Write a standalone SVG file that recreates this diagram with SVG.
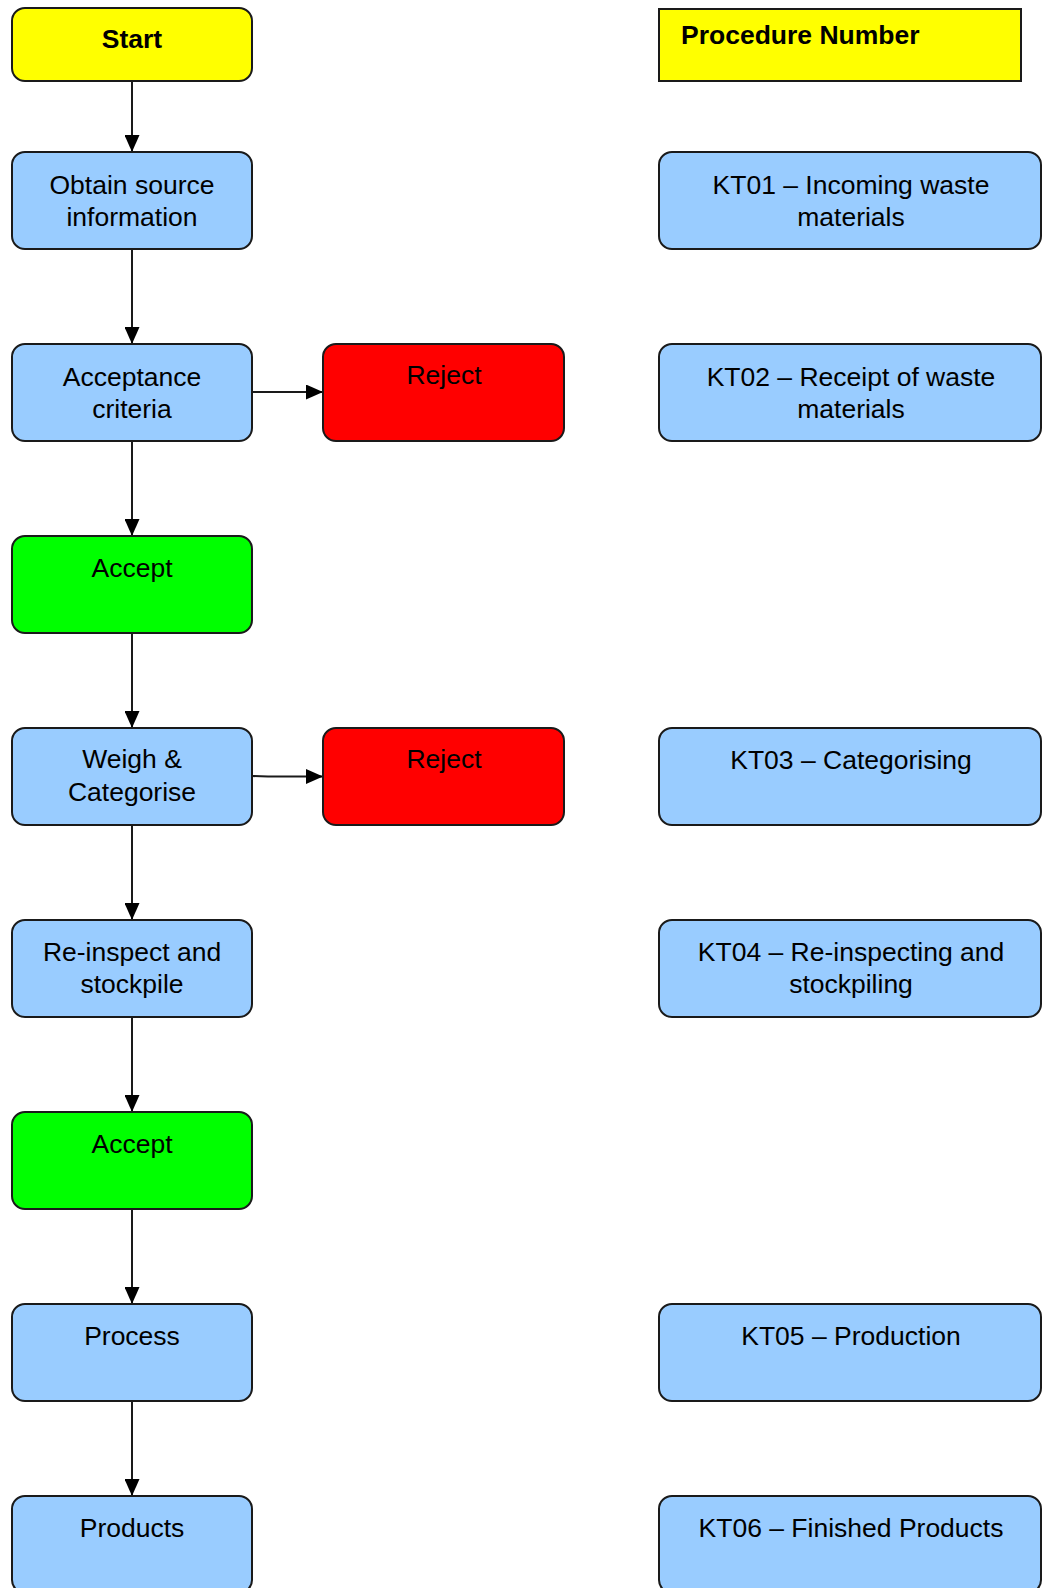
<svg xmlns="http://www.w3.org/2000/svg" width="1042" height="1588" viewBox="0 0 1042 1588">
<style>
.box{stroke:#1a1a1a;stroke-width:2}
.blue{fill:#99ccff}
.yellow{fill:#ffff00}
.red{fill:#ff0000}
.green{fill:#00ff00}
text{font-family:"Liberation Sans",Arial,sans-serif;font-size:26.5px;fill:#000;text-anchor:middle}
.b{font-weight:bold}
.conn{stroke:#1a1a1a;stroke-width:2;fill:none}
</style>
<defs>
<marker id="arr" markerWidth="17" markerHeight="15" refX="17" refY="7.5" orient="auto" markerUnits="userSpaceOnUse" viewBox="0 0 17 15">
<path d="M0,0 L17,7.5 L0,15 Z" fill="#000"/>
</marker>
</defs>
<rect width="1042" height="1588" fill="#fff"/>
<g id="connectors">
<line class="conn" x1="132" y1="81" x2="132" y2="152" marker-end="url(#arr)"/>
<line class="conn" x1="132" y1="249" x2="132" y2="344" marker-end="url(#arr)"/>
<line class="conn" x1="132" y1="441" x2="132" y2="536" marker-end="url(#arr)"/>
<line class="conn" x1="132" y1="633" x2="132" y2="728" marker-end="url(#arr)"/>
<line class="conn" x1="132" y1="825" x2="132" y2="920" marker-end="url(#arr)"/>
<line class="conn" x1="132" y1="1017" x2="132" y2="1112" marker-end="url(#arr)"/>
<line class="conn" x1="132" y1="1209" x2="132" y2="1304" marker-end="url(#arr)"/>
<line class="conn" x1="132" y1="1401" x2="132" y2="1496" marker-end="url(#arr)"/>
<line class="conn" x1="252" y1="392" x2="323" y2="392" marker-end="url(#arr)"/>
<polyline class="conn" points="252,776 268,776.5 323,776.5" marker-end="url(#arr)"/>
</g>
<g id="start"><rect class="box yellow" x="12" y="8" width="240" height="73" rx="13"/><text class="b" x="132" y="48">Start</text></g>
<g id="obtain"><rect class="box blue" x="12" y="152" width="240" height="97" rx="13"/><text x="132" y="194">Obtain source</text><text x="132" y="226">information</text></g>
<g id="acceptance"><rect class="box blue" x="12" y="344" width="240" height="97" rx="13"/><text x="132" y="386">Acceptance</text><text x="132" y="418">criteria</text></g>
<g id="reject1"><rect class="box red" x="323" y="344" width="241" height="97" rx="13"/><text x="444" y="384">Reject</text></g>
<g id="accept1"><rect class="box green" x="12" y="536" width="240" height="97" rx="13"/><text x="132" y="577">Accept</text></g>
<g id="weigh"><rect class="box blue" x="12" y="728" width="240" height="97" rx="13"/><text x="132" y="768">Weigh &amp;</text><text x="132" y="801">Categorise</text></g>
<g id="reject2"><rect class="box red" x="323" y="728" width="241" height="97" rx="13"/><text x="444" y="768">Reject</text></g>
<g id="reinspect"><rect class="box blue" x="12" y="920" width="240" height="97" rx="13"/><text x="132" y="961">Re-inspect and</text><text x="132" y="993">stockpile</text></g>
<g id="accept2"><rect class="box green" x="12" y="1112" width="240" height="97" rx="13"/><text x="132" y="1153">Accept</text></g>
<g id="process"><rect class="box blue" x="12" y="1304" width="240" height="97" rx="13"/><text x="132" y="1345">Process</text></g>
<g id="products"><rect class="box blue" x="12" y="1496" width="240" height="97" rx="13"/><text x="132" y="1537">Products</text></g>
<g id="procnum"><rect class="box yellow" x="659" y="9" width="362" height="72" stroke-width="2.5"/><text class="b" x="681" y="44" style="text-anchor:start">Procedure Number</text></g>
<g id="kt01"><rect class="box blue" x="659" y="152" width="382" height="97" rx="13"/><text x="851" y="194">KT01 – Incoming waste</text><text x="851" y="226">materials</text></g>
<g id="kt02"><rect class="box blue" x="659" y="344" width="382" height="97" rx="13"/><text x="851" y="386">KT02 – Receipt of waste</text><text x="851" y="418">materials</text></g>
<g id="kt03"><rect class="box blue" x="659" y="728" width="382" height="97" rx="13"/><text x="851" y="769">KT03 – Categorising</text></g>
<g id="kt04"><rect class="box blue" x="659" y="920" width="382" height="97" rx="13"/><text x="851" y="961">KT04 – Re-inspecting and</text><text x="851" y="993">stockpiling</text></g>
<g id="kt05"><rect class="box blue" x="659" y="1304" width="382" height="97" rx="13"/><text x="851" y="1345">KT05 – Production</text></g>
<g id="kt06"><rect class="box blue" x="659" y="1496" width="382" height="97" rx="13"/><text x="851" y="1537">KT06 – Finished Products</text></g>
</svg>
